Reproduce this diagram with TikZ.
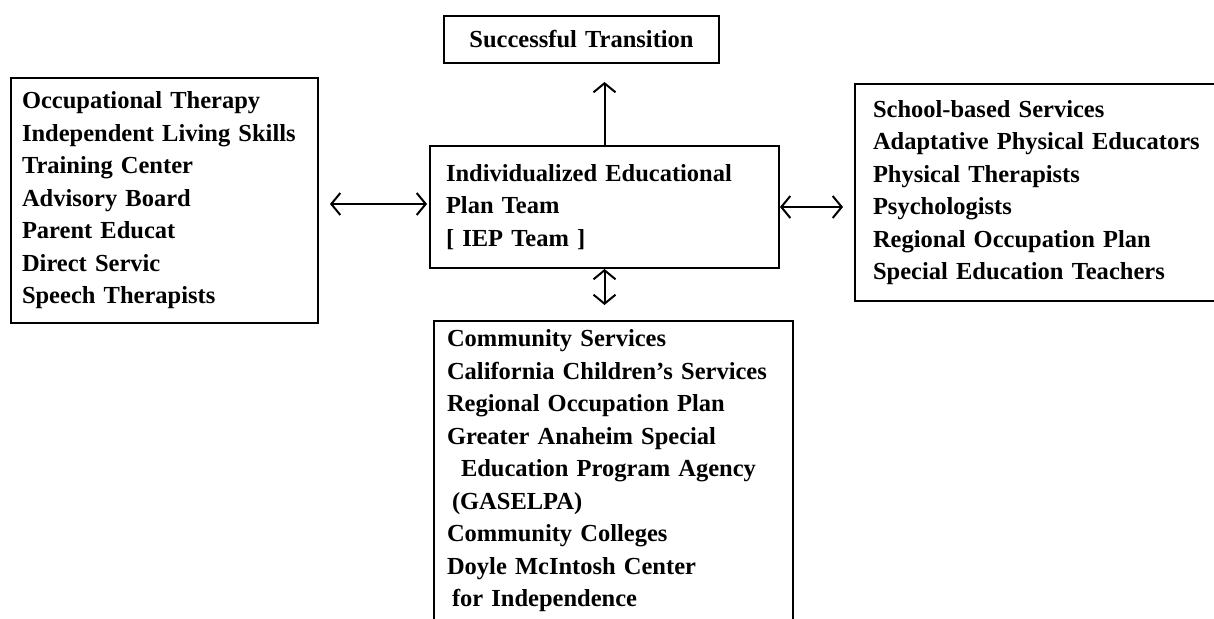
\documentclass[tikz,border=0pt]{standalone}
\usepackage{fontspec}
\setmainfont{Liberation Serif}
\usepackage{tikz}
\usetikzlibrary{arrows.meta,positioning,calc}

\begin{document}
\begin{tikzpicture}[x=1pt, y=-1pt,
  every node/.style={font=\fontsize{24.5}{32.5}\selectfont\bfseries},
  box/.style={draw, line width=2pt, rectangle, anchor=north west, align=left, inner xsep=12pt, inner ysep=0pt},
  link/.style={line width=2pt, {Straight Barb[length=9pt,width=22pt,line width=2pt]}-{Straight Barb[length=9pt,width=22pt,line width=2pt]}}]
  \useasboundingbox (0,0) rectangle (1214,618);

  % boxes
  \node[box, text width=285pt, minimum height=245pt, inner xsep=11pt] (L) at (10,77)
    {Occupational Therapy\\ Independent Living Skills\\ Training Center\\ Advisory Board\\ Parent Educat\\ Direct Servic\\ Speech Therapists};
  \node[box, text width=251pt, minimum height=47pt, align=center] (G) at (443,15)
    {Successful Transition};
  \node[box, text width=317pt, minimum height=122pt, inner xsep=16pt] (IEP) at (429,145)
    {Individualized Educational\\ Plan Team\\ {[} IEP Team {]}};
  \node[box, text width=330pt, minimum height=217pt, inner xsep=18pt] (S) at (854,83)
    {School-based Services\\ Adaptative Physical Educators\\ Physical Therapists\\ Psychologists\\ Regional Occupation Plan\\ Special Education Teachers};
  \node[box, text width=333pt, minimum height=300pt, inner xsep=13pt] (C) at (433,320)
    {Community Services\\ California Children's Services\\ Regional Occupation Plan\\ Greater Anaheim Special\\ \hspace{14pt}Education Program Agency\\ \hspace{5pt}(GASELPA)\\ Community Colleges\\ Doyle McIntosh Center\\ \hspace{5pt}for Independence};

  % arrows
  \draw[line width=2pt, -{Straight Barb[length=9pt,width=22pt,line width=2pt]}, shorten >=18pt] (IEP.north) -- (IEP.north |- G.south);
  \draw[link, shorten <=11pt, shorten >=2pt] ($(L.east |- IEP.west)+(0,-3)$) -- ($(IEP.west)+(0,-3)$);
  \draw[link, shorten >=11pt] (IEP.east) -- (S.west |- IEP.east);
  \draw[link, shorten >=15pt] (IEP.south) -- (IEP.south |- C.north);
\end{tikzpicture}
\end{document}
